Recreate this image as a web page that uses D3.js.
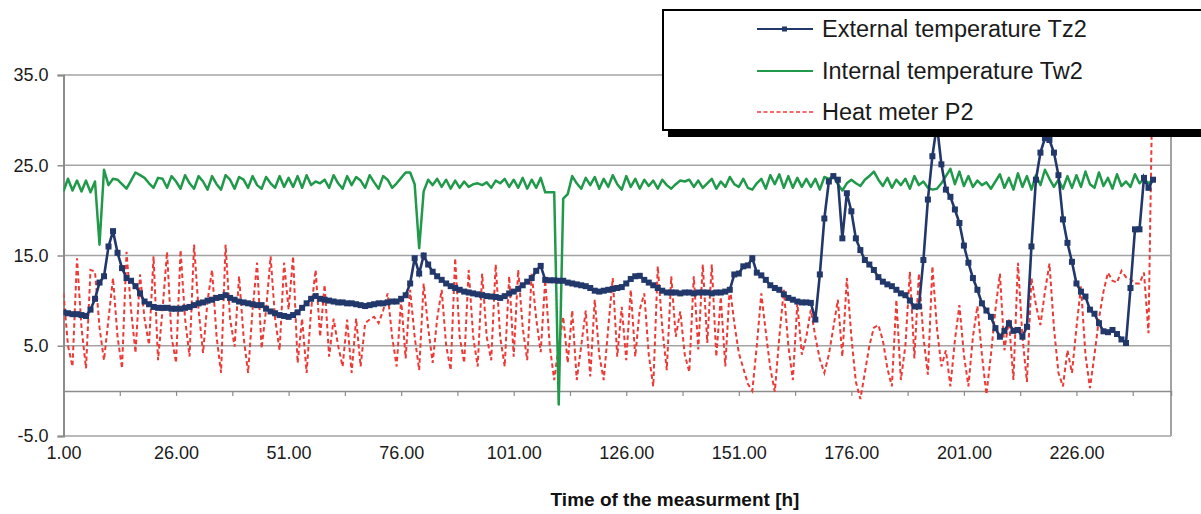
<!DOCTYPE html>
<html lang="en">
  <head>
    <title>D3: Tz2, Tw2 and heat meter P2</title>
    <meta charset="utf-8"/>
    <script type="text/javascript" src="https://d3js.org/d3.v7.min.js"></script>
    <style>
     body {
       margin: 0;
       background: white;
     }
     svg {
       display: block;
       font-family: "Liberation Sans", Arial, sans-serif;
     }
    </style>
  </head>
  <body>
    <script type="text/javascript">
     // data, one value per hour ----------------------------------------------------------
     let tz2 = [
       8.7, 8.6, 8.5, 8.5, 8.4, 8.3, 9.0, 10.2, 12.0, 12.7,
       16.0, 17.7, 15.3, 13.6, 12.5, 12.2, 11.6, 10.8, 9.9, 9.6,
       9.3, 9.2, 9.2, 9.2, 9.1, 9.1, 9.1, 9.2, 9.3, 9.5,
       9.7, 9.8, 10.0, 10.1, 10.3, 10.4, 10.6, 10.3, 10.1, 9.9,
       9.8, 9.7, 9.6, 9.5, 9.5, 9.1, 8.8, 8.6, 8.4, 8.3,
       8.2, 8.4, 8.7, 9.2, 9.7, 10.2, 10.5, 10.2, 10.1, 10.0,
       9.9, 9.8, 9.8, 9.7, 9.7, 9.6, 9.5, 9.4, 9.5, 9.6,
       9.7, 9.7, 9.8, 9.9, 9.9, 10.2, 10.6, 11.9, 14.7, 13.0,
       15.0, 14.0, 13.2, 12.7, 12.3, 11.9, 11.6, 11.4, 11.2, 11.0,
       10.9, 10.8, 10.7, 10.6, 10.5, 10.45, 10.4, 10.3, 10.5, 10.8,
       11.0, 11.3, 11.7, 12.1, 12.5, 13.3, 13.85, 12.3, 12.25, 12.25,
       12.2, 12.2, 12.0, 11.9, 11.8, 11.7, 11.6, 11.4, 11.1, 11.0,
       11.1, 11.2, 11.3, 11.4, 11.5, 11.9, 12.4, 12.7, 12.75, 12.3,
       12.0, 11.7, 11.4, 11.1, 10.9, 10.9, 10.9, 10.8, 10.9, 10.9,
       10.8, 10.9, 10.9, 10.9, 10.8, 10.9, 10.9, 11.0, 11.2, 12.9,
       13.0, 13.8, 13.9, 14.7, 13.1, 12.8, 12.3, 11.7, 11.4, 11.2,
       10.7, 10.3, 10.1, 9.9, 9.8, 9.8, 9.75, 7.9, 12.9, 19.1,
       23.2, 23.8, 23.4, 16.9, 21.9, 19.9, 16.9, 15.6, 14.5, 14.0,
       13.4, 12.6, 12.1, 11.8, 11.6, 11.2, 10.8, 10.6, 10.0, 9.35,
       9.35, 14.5, 21.2, 26.0, 29.5, 25.1, 22.3, 21.5, 20.1, 18.6,
       16.1, 14.2, 12.5, 11.2, 9.7, 8.9, 8.2, 6.95, 6.0, 6.65,
       7.5, 6.65, 6.75, 6.0, 7.1, 16.0, 23.4, 26.4, 28.0, 27.8,
       26.4, 23.9, 19.0, 16.4, 14.3, 11.9, 11.0, 10.45, 9.0, 8.55,
       7.5, 6.6, 6.5, 6.75, 6.3, 5.7, 5.3, 11.4, 17.9, 17.9,
       23.6, 22.5, 23.4
     ];

     let tw2 = [
       22.1, 23.5, 22.2, 23.3, 22.1, 23.3, 22.0, 23.2, 16.2, 24.5,
       22.8, 23.5, 23.4, 22.9, 22.4, 23.3, 24.2, 23.9, 23.6, 23.0,
       22.5, 23.6, 23.5, 22.5, 23.8, 23.2, 22.4, 23.9, 23.0, 22.4,
       23.8, 23.2, 22.3, 23.8, 22.9, 22.3, 23.9, 23.4, 22.4, 23.7,
       23.4, 22.5, 23.8, 22.8, 22.4, 23.7, 23.0, 22.5, 23.8, 22.6,
       23.6, 22.6, 23.8, 22.5, 23.9, 22.8, 23.2, 23.0, 23.4, 22.5,
       23.9, 23.0, 22.4, 23.8, 22.8, 23.7, 23.3, 22.5, 23.9, 23.1,
       22.4, 23.8, 23.4, 22.5, 23.0, 23.6, 24.2, 24.2, 22.9, 15.8,
       22.1, 23.4, 22.8, 23.5, 22.6, 23.4, 22.4, 23.3, 22.5, 23.2,
       22.6, 22.9, 23.0, 22.8, 23.1, 22.5, 23.3, 23.0, 23.5, 22.6,
       23.4, 22.5, 23.6, 22.4, 23.4, 22.5, 23.6, 22.0, 22.0, 22.0,
       -1.5, 21.3, 21.8, 23.8, 23.0, 22.4, 23.6, 22.8, 23.7, 22.4,
       23.5, 22.6, 23.9, 22.9, 22.3, 23.8, 22.6, 23.5, 22.4, 23.4,
       22.7, 23.3, 22.4, 23.4, 22.8, 22.4, 22.9, 23.3, 23.2, 23.4,
       22.6, 23.3, 22.5, 23.0, 23.5, 22.4, 23.2, 22.6, 23.7, 22.9,
       22.6, 23.5, 22.5, 22.3, 23.0, 23.5, 22.4, 23.9, 22.9, 24.0,
       22.5, 23.8, 22.5, 23.6, 22.6, 23.5, 22.6, 23.5, 22.3, 23.7,
       23.5, 23.8, 22.9, 22.2, 23.0, 23.4, 23.0, 22.7, 23.4, 23.8,
       24.3, 23.4, 22.7, 23.6, 22.5, 23.4, 22.8, 23.5, 22.4, 23.8,
       22.8, 23.2, 22.5, 22.3, 22.4, 23.0, 23.8, 24.6, 22.9, 24.3,
       22.7, 23.8, 22.6, 23.3, 22.8, 23.1, 22.4, 23.2, 24.0, 22.5,
       23.6, 22.3, 24.1, 22.6, 23.8, 22.3, 23.9, 22.8, 24.5, 23.5,
       22.6, 23.4, 22.4, 23.8, 22.5, 23.9, 22.6, 24.3, 22.9, 22.5,
       24.2, 22.7, 23.6, 22.4, 24.0, 22.7, 23.2, 22.6, 24.0, 23.0,
       23.5, 23.0, 23.4
     ];

     let p2 = [
       10.8, 5.0, 2.7, 14.7, 7.0, 2.5, 13.4, 13.2, 7.0, 3.4,
       8.0, 12.5, 6.0, 2.5, 15.4, 9.0, 4.2, 12.9, 8.0, 5.1,
       14.9, 3.4, 9.0, 15.4, 6.0, 3.1, 15.6, 8.0, 3.8, 16.2,
       9.0, 4.2, 10.0, 13.4, 6.0, 2.0, 16.2, 8.0, 4.9, 12.7,
       6.0, 2.0, 9.0, 14.2, 4.7, 9.0, 14.9, 8.0, 4.5, 14.2,
       9.0, 14.9, 3.1, 8.0, 2.0, 9.0, 13.4, 6.0, 11.75, 3.8,
       8.0, 5.0, 2.7, 7.9, 2.0, 8.0, 2.7, 7.5, 7.9, 8.2,
       7.5, 8.9, 10.8, 6.0, 2.7, 10.1, 3.6, 11.2, 6.0, 2.3,
       11.9, 7.0, 3.1, 8.0, 11.2, 5.0, 2.3, 14.7, 6.0, 3.1,
       13.4, 6.0, 2.7, 13.0, 6.0, 3.4, 14.0, 6.0, 2.7, 12.7,
       3.8, 13.4, 7.0, 3.4, 13.0, 8.0, 4.3, 12.3, 5.0, 1.2,
       5.0, 8.2, 3.1, 8.9, 1.2, 5.0, 8.9, 1.6, 10.1, 4.0,
       1.2, 7.0, 12.5, 3.8, 9.3, 3.4, 11.2, 3.8, 9.0, 10.8,
       4.0, 0.5, 13.8, 7.0, 2.3, 12.7, 6.0, 8.8, 4.0, 2.1,
       12.7, 4.6, 14.0, 5.3, 14.0, 3.8, 10.4, 2.7, 11.6, 7.5,
       4.2, 2.5, 0.8, 0.0, 5.0, 10.8, 6.5, 2.5, -0.1, 6.0,
       11.2, 5.0, 1.2, 9.7, 4.0, 6.0, 9.0, 6.0, 3.5, 2.0,
       4.0, 7.0, 10.1, 3.8, 12.5, 6.0, 1.0, -0.9, 2.0, 5.0,
       7.0, 7.3, 5.6, 2.5, 0.5, 10.1, 1.2, 5.0, 13.2, 3.6,
       13.0, 6.0, 1.8, 13.8, 7.0, 2.7, 4.5, 0.5, 5.6, 9.5,
       4.0, 0.5, 6.0, 9.4, 4.0, -0.4, 4.0, 9.0, 13.0, 4.5,
       7.9, 1.2, 14.2, 6.0, 1.0, 12.5, 9.5, 7.3, 11.0, 14.1,
       7.0, 2.0, 0.5, 4.5, 2.0, 7.0, 11.6, 4.0, 0.3, 4.0,
       8.0, 11.0, 13.1, 12.2, 12.0, 13.3, 12.6, 12.4, 11.9, 11.9,
       13.1, 6.4, 38
     ];

     let seriesNames = ["External temperature Tz2", "Internal temperature Tw2", "Heat meter P2"];
     let xTicks = [1, 26, 51, 76, 101, 126, 151, 176, 201, 226];
     let yTicks = [-5, 5, 15, 25, 35];

     // layout ------------------------------------------------------------------------------
     let w = 1201;
     let h = 514;
     let pLeft = 63.5, pRight = 1171, pTop = 75, pBottom = 436;   // plot area edges

     let navy = "#22386b";
     let green = "#21994a";
     let red = "#ee3a36";
     let grid = "#a3a3a3";

     let svg = d3.select("body").append("svg")
       .attr("width", w)
       .attr("height", h);

     let x = d3.scaleLinear().domain([1, 247]).range([pLeft, pRight]);
     let y = d3.scaleLinear().domain([-5, 35]).range([pBottom, pTop]);

     // gridlines and frame -----------------------------------------------------------------
     svg.append("g")
        .selectAll("line")
        .data(yTicks)
        .enter()
        .append("line")
        .attr("x1", pLeft)
        .attr("x2", pRight)
        .attr("y1", d => y(d))
        .attr("y2", d => y(d))
        .attr("stroke", grid)
        .attr("stroke-width", 1.5);

     svg.append("line")
        .attr("x1", pRight).attr("x2", pRight)
        .attr("y1", pTop).attr("y2", pBottom)
        .attr("stroke", grid)
        .attr("stroke-width", 2);

     // category axis lying on zero, with a tick every 12.5 hours
     let zeroAxis = svg.append("g")
       .attr("transform", "translate(0," + y(0) + ")")
       .call(d3.axisBottom(x).tickValues(d3.range(1, 240, 12.5)).tickSize(5).tickFormat(""));
     zeroAxis.select(".domain").attr("stroke", "#8c8c8c").attr("stroke-width", 1.5);
     zeroAxis.selectAll(".tick line").attr("stroke", "#8c8c8c").attr("stroke-width", 1.2);

     // y axis
     let yAxis = svg.append("g")
       .attr("transform", "translate(" + pLeft + ",0)")
       .call(d3.axisLeft(y).tickValues(yTicks).tickSize(6).tickPadding(9).tickFormat(d => d.toFixed(1)));
     yAxis.select(".domain").attr("stroke", "#8c8c8c").attr("stroke-width", 2);
     yAxis.selectAll(".tick line").attr("stroke", "#8c8c8c").attr("stroke-width", 1.5);
     yAxis.selectAll("text")
          .attr("font-size", "18px")
          .attr("font-family", "'Liberation Sans', Arial, sans-serif")
          .attr("fill", "#1a1a1a");

     // x labels below the plot
     let xAxis = svg.append("g")
       .attr("transform", "translate(0," + pBottom + ")")
       .call(d3.axisBottom(x).tickValues(xTicks).tickSize(0).tickPadding(10).tickFormat(d => d.toFixed(2)));
     xAxis.select(".domain").remove();
     xAxis.selectAll("text")
          .attr("font-size", "18px")
          .attr("font-family", "'Liberation Sans', Arial, sans-serif")
          .attr("fill", "#1a1a1a");

     svg.append("text")
        .text("Time of the measurment [h]")
        .attr("x", 675)
        .attr("y", 506)
        .attr("text-anchor", "middle")
        .attr("font-size", "19px")
        .attr("font-weight", "bold")
        .attr("fill", "#111");

     // series ------------------------------------------------------------------------------
     svg.append("clipPath")
        .attr("id", "plot")
        .append("rect")
        .attr("x", pLeft)
        .attr("y", pTop)
        .attr("width", pRight - pLeft)
        .attr("height", pBottom - pTop);

     let plot = svg.append("g").attr("clip-path", "url(#plot)");

     let line = d3.line()
       .x((d, i) => x(i + 1))
       .y(d => y(d));

     plot.append("path")
         .datum(p2)
         .attr("d", line)
         .attr("fill", "none")
         .attr("stroke", red)
         .attr("stroke-width", 2)
         .attr("stroke-dasharray", "4.5,3");

     plot.append("path")
         .datum(tw2)
         .attr("d", line)
         .attr("fill", "none")
         .attr("stroke", green)
         .attr("stroke-width", 2.5)
         .attr("stroke-linejoin", "round");

     plot.append("path")
         .datum(tz2)
         .attr("d", line)
         .attr("fill", "none")
         .attr("stroke", navy)
         .attr("stroke-width", 2.6);

     plot.selectAll("rect.mark")
         .data(tz2)
         .enter()
         .append("rect")
         .classed("mark", true)
         .attr("x", (d, i) => x(i + 1) - 3)
         .attr("y", d => y(d) - 3)
         .attr("width", 6)
         .attr("height", 6)
         .attr("fill", navy);

     // legend with its shadow --------------------------------------------------------------
     let lx = 663, ly = 10, lw = 560, lh = 120;
     svg.append("rect")
        .attr("x", lx + 5)
        .attr("y", ly + 7)
        .attr("width", lw)
        .attr("height", lh)
        .attr("fill", "black");
     svg.append("rect")
        .attr("x", lx)
        .attr("y", ly)
        .attr("width", lw)
        .attr("height", lh)
        .attr("fill", "white")
        .attr("stroke", "black")
        .attr("stroke-width", 2);

     let rows = [29, 71, 112];
     let colors = [navy, green, red];
     let dashes = [null, null, "4,2.5"];

     let items = svg.selectAll("g.item")
       .data(seriesNames)
       .enter()
       .append("g")
       .classed("item", true)
       .attr("transform", (d, i) => "translate(0," + rows[i] + ")");

     items.append("line")
          .attr("x1", 757)
          .attr("x2", 813)
          .attr("stroke", (d, i) => colors[i])
          .attr("stroke-width", (d, i) => i == 2 ? 1.6 : 2)
          .attr("stroke-dasharray", (d, i) => dashes[i]);

     items.filter((d, i) => i == 0)
          .append("rect")
          .attr("x", 782)
          .attr("y", -2.5)
          .attr("width", 5)
          .attr("height", 5)
          .attr("fill", navy);

     items.append("text")
          .text(d => d)
          .attr("x", 822)
          .attr("y", 8)
          .attr("font-size", "23.5px")
          .attr("fill", "#1a1a1a");
    </script>
  </body>
</html>
